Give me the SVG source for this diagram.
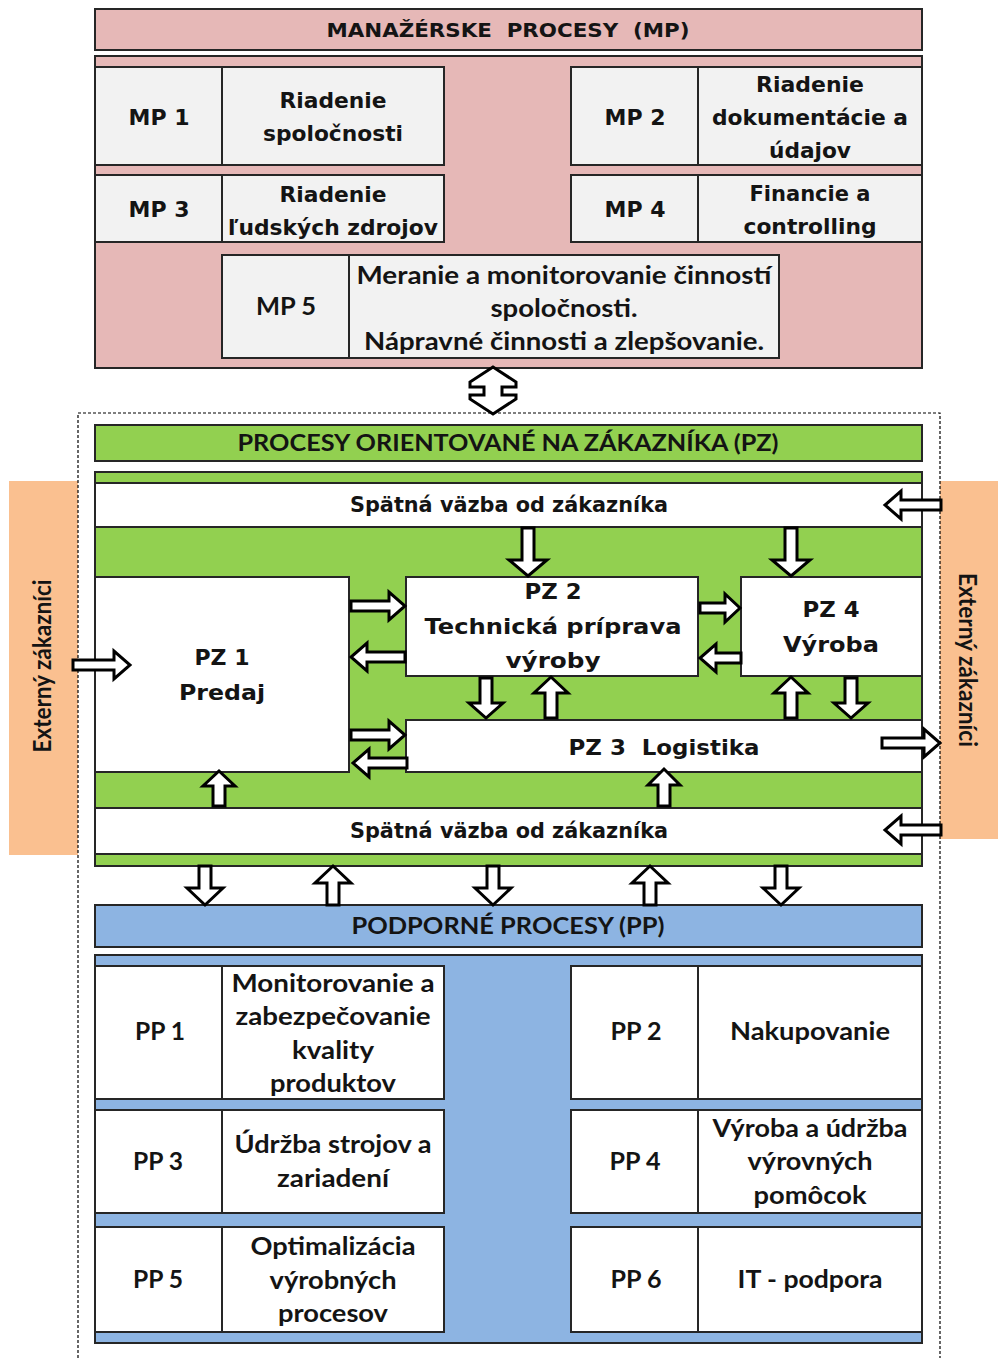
<svg xmlns="http://www.w3.org/2000/svg" width="998" height="1358" viewBox="0 0 998 1358">
  <style>
    .bg { fill: #ffffff; }
    .mp { fill: #e6b8b7; stroke: #262626; stroke-width: 2; }
    .mpc { fill: #f2f2f2; stroke: #262626; stroke-width: 2; }
    .pz { fill: #92d050; stroke: #262626; stroke-width: 2; }
    .wb { fill: #ffffff; stroke: #262626; stroke-width: 2; }
    .pp { fill: #8db4e2; stroke: #262626; stroke-width: 2; }
    .ext { fill: #fac090; }
    .dash { fill: none; stroke: #000; stroke-width: 1.2; stroke-dasharray: 3 2; }
    .arr { fill: #ffffff; stroke: #000; stroke-width: 3; stroke-linejoin: miter; }
    .t { font-family: "DejaVu Sans", Verdana, sans-serif; font-weight: bold; font-size: 21px; fill: #141414; text-anchor: middle; }
    .c { font-family: Lato, "Open Sans", sans-serif; font-weight: 700; font-size: 24px; fill: #141414; text-anchor: middle; }
    .h { font-size: 20px; }
    .s { font-size: 21px; }
    .hc { font-size: 22px; }
    .pre { white-space: pre; }
  </style>

  <rect class="bg" x="0" y="0" width="998" height="1358"/>

  <!-- external customers (side panels) -->
  <g id="ext-left">
    <rect class="ext" x="9" y="481" width="69" height="374"/>
    <text class="c" transform="translate(51,666) rotate(-90)" font-size="23" textLength="173" lengthAdjust="spacingAndGlyphs">Externý zákazníci</text>
  </g>
  <g id="ext-right">
    <rect class="ext" x="940" y="481" width="58" height="358"/>
    <text class="c" font-weight="400" transform="translate(959,660) rotate(90)" font-size="23" textLength="174" lengthAdjust="spacingAndGlyphs">Externý zákazníci</text>
  </g>

  <!-- dashed frame around customer and support processes -->
  <path class="dash" d="M78,1358 V413 H940 V1358"/>

  <!-- management processes -->
  <g id="mp-header">
    <rect class="mp" x="95" y="9" width="827" height="41"/>
    <text class="t h pre" x="508" y="37" textLength="363" lengthAdjust="spacingAndGlyphs" xml:space="preserve">MANAŽÉRSKE  PROCESY  (MP)</text>
  </g>
  <g id="mp-body">
    <rect class="mp" x="95" y="56" width="827" height="312"/>
  </g>
  <g id="mp1">
    <rect class="mpc" x="95" y="67" width="127" height="98"/>
    <rect class="mpc" x="222" y="67" width="222" height="98"/>
    <text class="t" x="159" y="125" textLength="61" lengthAdjust="spacingAndGlyphs">MP 1</text>
    <text class="t" x="333" y="108" textLength="107" lengthAdjust="spacingAndGlyphs">Riadenie</text>
    <text class="t" x="333" y="141" textLength="140" lengthAdjust="spacingAndGlyphs">spoločnosti</text>
  </g>
  <g id="mp2">
    <rect class="mpc" x="571" y="67" width="127" height="98"/>
    <rect class="mpc" x="698" y="67" width="224" height="98"/>
    <text class="t" x="635" y="125" textLength="61" lengthAdjust="spacingAndGlyphs">MP 2</text>
    <text class="t" x="810" y="92" textLength="108" lengthAdjust="spacingAndGlyphs">Riadenie</text>
    <text class="t" x="810" y="125" textLength="196" lengthAdjust="spacingAndGlyphs">dokumentácie a</text>
    <text class="t" x="810" y="158" textLength="82" lengthAdjust="spacingAndGlyphs">údajov</text>
  </g>
  <g id="mp3">
    <rect class="mpc" x="95" y="175" width="127" height="67"/>
    <rect class="mpc" x="222" y="175" width="222" height="67"/>
    <text class="t" x="159" y="217" textLength="61" lengthAdjust="spacingAndGlyphs">MP 3</text>
    <text class="t" x="333" y="202" textLength="107" lengthAdjust="spacingAndGlyphs">Riadenie</text>
    <text class="t" x="333" y="235" textLength="210" lengthAdjust="spacingAndGlyphs">ľudských zdrojov</text>
  </g>
  <g id="mp4">
    <rect class="mpc" x="571" y="175" width="127" height="67"/>
    <rect class="mpc" x="698" y="175" width="224" height="67"/>
    <text class="t" x="635" y="217" textLength="61" lengthAdjust="spacingAndGlyphs">MP 4</text>
    <text class="t" x="810" y="201" textLength="121" lengthAdjust="spacingAndGlyphs">Financie a</text>
    <text class="t" x="810" y="234" textLength="133" lengthAdjust="spacingAndGlyphs">controlling</text>
  </g>
  <g id="mp5">
    <rect class="mpc" x="222" y="255" width="127" height="103"/>
    <rect class="mpc" x="349" y="255" width="430" height="103"/>
    <text class="c" x="286" y="315" textLength="60" lengthAdjust="spacingAndGlyphs">MP 5</text>
    <text class="c" x="564" y="284" textLength="415" lengthAdjust="spacingAndGlyphs">Meranie a monitorovanie činností</text>
    <text class="c" x="564" y="317" textLength="147" lengthAdjust="spacingAndGlyphs">spoločnosti.</text>
    <text class="c" x="564" y="350" textLength="400" lengthAdjust="spacingAndGlyphs">Nápravné činnosti a zlepšovanie.</text>
  </g>

  <!-- customer oriented processes -->
  <g id="pz-header">
    <rect class="pz" x="95" y="425" width="827" height="36"/>
    <text class="c hc" x="508" y="451" textLength="541" lengthAdjust="spacingAndGlyphs">PROCESY ORIENTOVANÉ NA ZÁKAZNÍKA (PZ)</text>
  </g>
  <g id="pz-body">
    <rect class="pz" x="95" y="472" width="827" height="394"/>
  </g>
  <g id="feedback-top">
    <rect class="wb" x="95" y="483" width="827" height="44"/>
    <text class="t s" x="509" y="512" textLength="318" lengthAdjust="spacingAndGlyphs">Spätná väzba od zákazníka</text>
  </g>
  <g id="pz1">
    <rect class="wb" x="95" y="577" width="254" height="195"/>
    <text class="t" x="222" y="665" textLength="55" lengthAdjust="spacingAndGlyphs">PZ 1</text>
    <text class="t" x="222" y="700" textLength="86" lengthAdjust="spacingAndGlyphs">Predaj</text>
  </g>
  <g id="pz2">
    <rect class="wb" x="406" y="577" width="292" height="99"/>
    <text class="t" x="553" y="599" textLength="57" lengthAdjust="spacingAndGlyphs">PZ 2</text>
    <text class="t" x="553" y="634" textLength="257" lengthAdjust="spacingAndGlyphs">Technická príprava</text>
    <text class="t" x="553" y="668" textLength="95" lengthAdjust="spacingAndGlyphs">výroby</text>
  </g>
  <g id="pz4">
    <rect class="wb" x="741" y="577" width="181" height="99"/>
    <text class="t" x="831" y="617" textLength="57" lengthAdjust="spacingAndGlyphs">PZ 4</text>
    <text class="t" x="831" y="652" textLength="96" lengthAdjust="spacingAndGlyphs">Výroba</text>
  </g>
  <g id="pz3">
    <rect class="wb" x="406" y="720" width="516" height="52"/>
    <text class="t pre" x="664" y="755" textLength="191" lengthAdjust="spacingAndGlyphs" xml:space="preserve">PZ 3  Logistika</text>
  </g>
  <g id="feedback-bottom">
    <rect class="wb" x="95" y="808" width="827" height="46"/>
    <text class="t s" x="509" y="838" textLength="318" lengthAdjust="spacingAndGlyphs">Spätná väzba od zákazníka</text>
  </g>

  <!-- support processes -->
  <g id="pp-header">
    <rect class="pp" x="95" y="905" width="827" height="42"/>
    <text class="c hc" x="508" y="934" font-weight="600" textLength="313" lengthAdjust="spacingAndGlyphs">PODPORNÉ PROCESY (PP)</text>
  </g>
  <g id="pp-body">
    <rect class="pp" x="95" y="955" width="827" height="388"/>
  </g>
  <g id="pp1">
    <rect class="wb" x="95" y="966" width="127" height="133"/>
    <rect class="wb" x="222" y="966" width="222" height="133"/>
    <text class="c" x="160" y="1040" textLength="50" lengthAdjust="spacingAndGlyphs">PP 1</text>
    <text class="c" x="333" y="992" textLength="203" lengthAdjust="spacingAndGlyphs">Monitorovanie a</text>
    <text class="c" x="333" y="1025" textLength="195" lengthAdjust="spacingAndGlyphs">zabezpečovanie</text>
    <text class="c" x="333" y="1059" textLength="82" lengthAdjust="spacingAndGlyphs">kvality</text>
    <text class="c" x="333" y="1092" textLength="126" lengthAdjust="spacingAndGlyphs">produktov</text>
  </g>
  <g id="pp2">
    <rect class="wb" x="571" y="966" width="127" height="133"/>
    <rect class="wb" x="698" y="966" width="224" height="133"/>
    <text class="c" x="636" y="1040" textLength="51" lengthAdjust="spacingAndGlyphs">PP 2</text>
    <text class="c" x="810" y="1040" textLength="160" lengthAdjust="spacingAndGlyphs">Nakupovanie</text>
  </g>
  <g id="pp3">
    <rect class="wb" x="95" y="1110" width="127" height="103"/>
    <rect class="wb" x="222" y="1110" width="222" height="103"/>
    <text class="c" x="158" y="1170" textLength="50" lengthAdjust="spacingAndGlyphs">PP 3</text>
    <text class="c" x="333" y="1153" textLength="197" lengthAdjust="spacingAndGlyphs">Údržba strojov a</text>
    <text class="c" x="333" y="1187" textLength="112" lengthAdjust="spacingAndGlyphs">zariadení</text>
  </g>
  <g id="pp4">
    <rect class="wb" x="571" y="1110" width="127" height="103"/>
    <rect class="wb" x="698" y="1110" width="224" height="103"/>
    <text class="c" x="635" y="1170" textLength="51" lengthAdjust="spacingAndGlyphs">PP 4</text>
    <text class="c" x="810" y="1137" textLength="195" lengthAdjust="spacingAndGlyphs">Výroba a údržba</text>
    <text class="c" x="810" y="1170" textLength="125" lengthAdjust="spacingAndGlyphs">výrovných</text>
    <text class="c" x="810" y="1204" textLength="113" lengthAdjust="spacingAndGlyphs">pomôcok</text>
  </g>
  <g id="pp5">
    <rect class="wb" x="95" y="1227" width="127" height="105"/>
    <rect class="wb" x="222" y="1227" width="222" height="105"/>
    <text class="c" x="158" y="1288" textLength="50" lengthAdjust="spacingAndGlyphs">PP 5</text>
    <text class="c" x="333" y="1255" textLength="165" lengthAdjust="spacingAndGlyphs">Optimalizácia</text>
    <text class="c" x="333" y="1289" textLength="127" lengthAdjust="spacingAndGlyphs">výrobných</text>
    <text class="c" x="333" y="1322" textLength="110" lengthAdjust="spacingAndGlyphs">procesov</text>
  </g>
  <g id="pp6">
    <rect class="wb" x="571" y="1227" width="127" height="105"/>
    <rect class="wb" x="698" y="1227" width="224" height="105"/>
    <text class="c" x="636" y="1288" textLength="51" lengthAdjust="spacingAndGlyphs">PP 6</text>
    <text class="c" x="810" y="1288" textLength="145" lengthAdjust="spacingAndGlyphs">IT - podpora</text>
  </g>

  <!-- block arrows between processes -->
  <g id="connectors">
    <!-- MP <-> PZ -->
    <path class="arr" d="M493,367 L470,382 V387 H484 V395 H470 V399 L493,414 L516,399 V395 H502 V387 H516 V382 Z"/>
    <!-- horizontal -->
    <path class="arr" d="M351,601 H389 V592 L405,606 L389,620 V611 H351 Z"/>
    <path class="arr" d="M405,652 H367 V643 L351,657 L367,671 V662 H405 Z"/>
    <path class="arr" d="M700,603 H725 V594 L740,608 L725,622 V613 H700 Z"/>
    <path class="arr" d="M741,653 H716 V644 L700,658 L716,672 V663 H741 Z"/>
    <path class="arr" d="M351,730 H389 V721 L405,735 L389,749 V740 H351 Z"/>
    <path class="arr" d="M407,758 H369 V749 L353,763 L369,777 V768 H407 Z"/>
    <path class="arr" d="M73,660 H114 V651 L130,665 L114,679 V670 H73 Z"/>
    <path class="arr" d="M941,500 H901 V491 L885,505 L901,519 V510 H941 Z"/>
    <path class="arr" d="M882,738 H924 V729 L940,743 L924,757 V748 H882 Z"/>
    <path class="arr" d="M941,825 H901 V816 L885,830 L901,844 V835 H941 Z"/>
    <!-- vertical inside PZ -->
    <path class="arr" d="M522,528 V560 H509 L528,576 L547,560 H534 V528 Z"/>
    <path class="arr" d="M785,528 V560 H772 L791,576 L810,560 H797 V528 Z"/>
    <path class="arr" d="M480,678 V703 H469 L486,718 L503,703 H492 V678 Z"/>
    <path class="arr" d="M545,718 V693 H534 L551,677 L568,693 H557 V718 Z"/>
    <path class="arr" d="M785,718 V693 H774 L791,677 L808,693 H797 V718 Z"/>
    <path class="arr" d="M845,678 V703 H834 L851,718 L868,703 H857 V678 Z"/>
    <path class="arr" d="M213,806 V786 H203 L219,771 L235,786 H225 V806 Z"/>
    <path class="arr" d="M658,806 V785 H648 L664,769 L680,785 H670 V806 Z"/>
    <!-- PZ <-> PP -->
    <path class="arr" d="M199,866 V888 H187 L205,905 L223,888 H211 V866 Z"/>
    <path class="arr" d="M327,905 V883 H315 L333,866 L351,883 H339 V905 Z"/>
    <path class="arr" d="M487,866 V888 H475 L493,905 L511,888 H499 V866 Z"/>
    <path class="arr" d="M644,905 V883 H632 L650,866 L668,883 H656 V905 Z"/>
    <path class="arr" d="M775,866 V888 H763 L781,905 L799,888 H787 V866 Z"/>
  </g>
</svg>
